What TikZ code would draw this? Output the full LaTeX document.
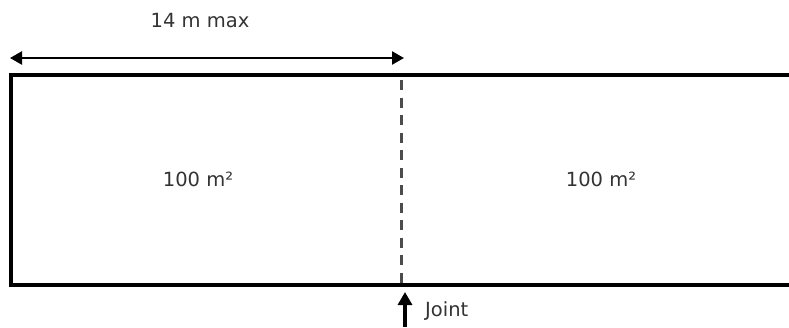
\documentclass[tikz,border=0pt]{standalone}
\usepackage{fontspec}
\setmainfont{DejaVu Sans}
\usetikzlibrary{arrows.meta}
\begin{document}
\begin{tikzpicture}[x=1pt,y=-1pt,
  lbl/.style={text=black!80,font=\fontsize{19.5}{22}\selectfont,inner sep=0pt},
  slab/.style={line width=4pt,line join=miter},
  joint/.style={line width=3pt,draw=black!70,dash pattern=on 10pt off 7.5pt},
  dim/.style={line width=2.4pt,{Triangle[length=12pt,width=13pt]}-{Triangle[length=12pt,width=13pt]}},
  jointarrow/.style={line width=3.2pt,-{Triangle[length=13pt,width=14pt]}}]
\useasboundingbox (0,0) rectangle (789,327);
% slab outline (open on the right)
\coordinate (tr) at (791,75);
\coordinate (tl) at (11,75);
\coordinate (bl) at (11,285);
\coordinate (br) at (791,285);
\draw[slab] (tr) -- (tl) -- (bl) -- (br);
% joint line
\coordinate (jt) at (401,80);
\coordinate (jb) at (401,283);
\draw[joint] (jt) -- (jb);
% dimension arrow
\coordinate (dL) at (10,58);
\coordinate (dR) at (404,58);
\draw[dim] (dL) -- (dR);
\node[lbl] (dimtxt) at (200,21) {14 m max};
% areas
\node[lbl] (a1) at (198,179) {100 m²};
\node[lbl] (a2) at (601,179) {100 m²};
% joint pointer
\coordinate (ja) at (405,327);
\coordinate (jtip) at (405,292);
\draw[jointarrow] (ja) -- (jtip);
\node[lbl,anchor=west] (jl) at (425,311) {Joint};
\end{tikzpicture}
\end{document}
